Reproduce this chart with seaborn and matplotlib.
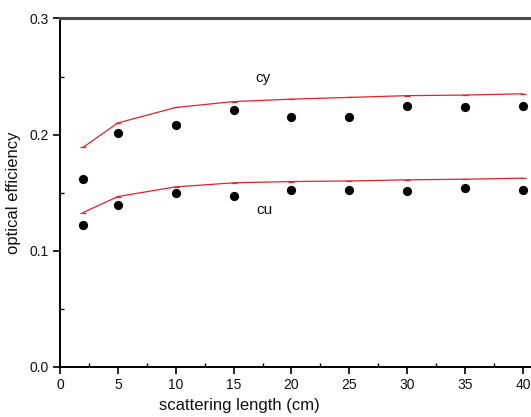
import matplotlib
matplotlib.use("Agg")
import matplotlib.pyplot as plt
import seaborn as sns
import pandas as pd
from matplotlib.ticker import MultipleLocator

sns.set_theme(style="white")
plt.rcParams['font.family'] = ['Liberation Sans', 'DejaVu Sans']

lengths = [2, 5, 10, 15, 20, 25, 30, 35, 40]
cy_measured = [0.162, 0.201, 0.208, 0.221, 0.215, 0.215, 0.2245, 0.2235, 0.225]
cu_measured = [0.122, 0.139, 0.1495, 0.147, 0.152, 0.152, 0.1515, 0.154, 0.1525]
cy_model = [0.189, 0.210, 0.2233, 0.2284, 0.2305, 0.232, 0.2335, 0.234, 0.2351]
cu_model = [0.1328, 0.1466, 0.1549, 0.1584, 0.1595, 0.160, 0.161, 0.1615, 0.1624]

df = pd.DataFrame({
    "x": lengths * 2,
    "measured": cy_measured + cu_measured,
    "model": cy_model + cu_model,
    "series": ["cy"] * 9 + ["cu"] * 9,
})

fig = plt.figure(figsize=(5.31, 4.17), dpi=100)
ax = fig.add_axes([0.113, 0.1207, 0.887, 0.835])

for s in ["cy", "cu"]:
    d = df[df.series == s]
    sns.lineplot(data=d, x="x", y="model", ax=ax, color="#e8202a", lw=0.9,
                 marker="_", markersize=5, markeredgewidth=0.9,
                 markeredgecolor="#e8202a", legend=False)
    sns.scatterplot(data=d, x="x", y="measured", ax=ax, color="black", s=44,
                    edgecolor="black", linewidth=0, legend=False, zorder=3)

ax.text(17.5, 0.249, "cy", fontsize=11, ha="center", va="center", color="#111111")
ax.text(17.7, 0.135, "cu", fontsize=11, ha="center", va="center", color="#111111")

ax.set_xlim(0, 40.7)
ax.set_ylim(0, 0.3)
ax.xaxis.set_major_locator(MultipleLocator(5))
ax.xaxis.set_minor_locator(MultipleLocator(2.5))
ax.yaxis.set_major_locator(MultipleLocator(0.1))
ax.yaxis.set_minor_locator(MultipleLocator(0.05))
ax.yaxis.set_major_formatter(matplotlib.ticker.FormatStrFormatter('%.1f'))

ax.tick_params(which="major", direction="out", length=5, width=1.2, color="black",
               labelsize=10, bottom=True, left=True, top=False,
               labelcolor="#111111", pad=3)
ax.tick_params(which="minor", direction="in", length=3, width=1.0, color="black",
               bottom=True, left=True, top=False)

for side in ["left", "bottom"]:
    ax.spines[side].set_color("black")
    ax.spines[side].set_linewidth(1.4)
ax.spines["top"].set_color("#4a4a4a")
ax.spines["top"].set_linewidth(2.2)
ax.spines["right"].set_visible(False)

ax.set_xlabel("scattering length (cm)", fontsize=12, color="#111111")
ax.set_ylabel("optical efficiency", fontsize=12, color="#111111")
ax.xaxis.set_label_coords(0.381, -0.09)
ax.yaxis.set_label_coords(-0.082, 0.5)

fig.savefig("out.png", dpi=100)
